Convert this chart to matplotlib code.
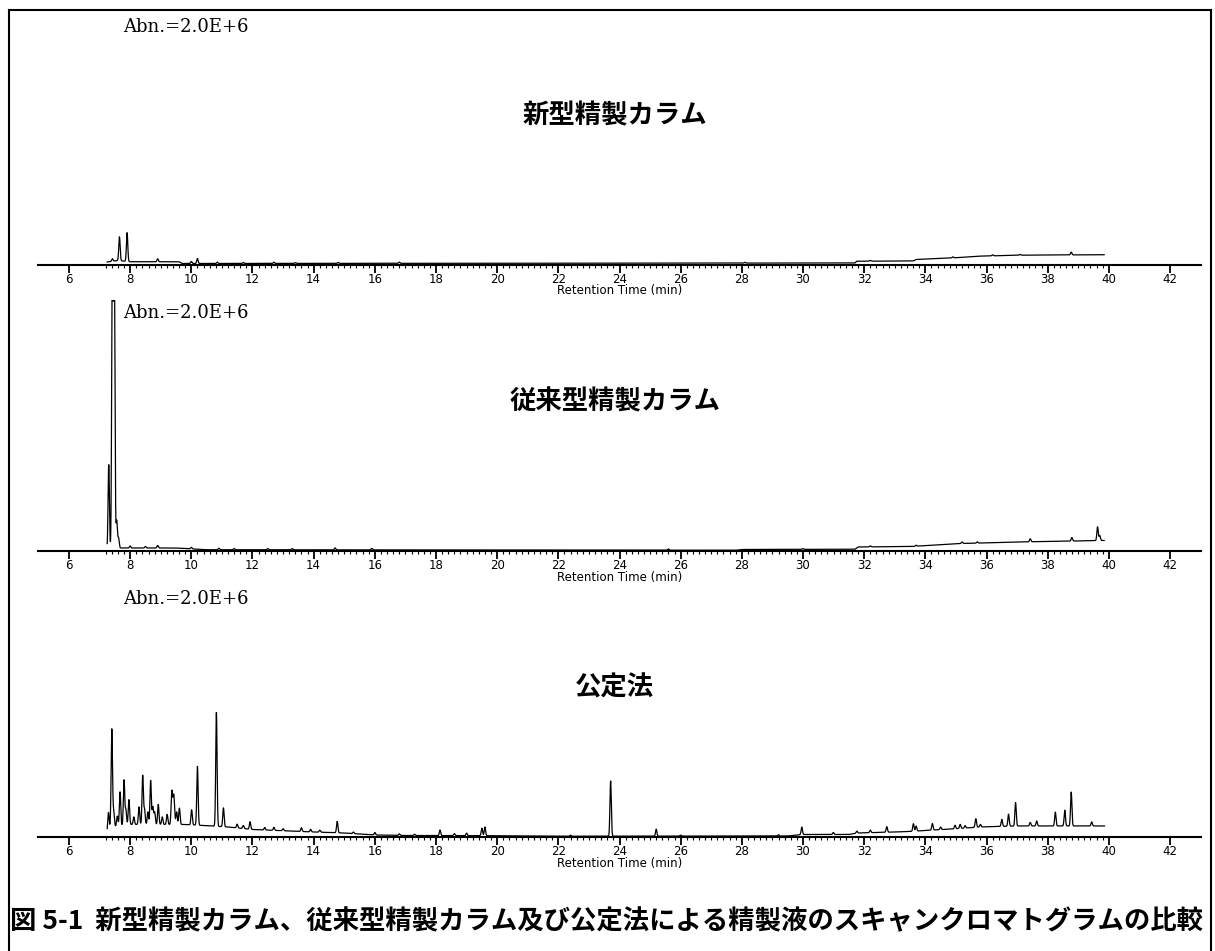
import numpy as np
import matplotlib
matplotlib.use("Agg")
import matplotlib.pyplot as plt
from matplotlib.lines import Line2D
from matplotlib.ticker import FixedLocator

# Full scale of every panel = Abn. 2.0E+6 (values below are fractions of it)
FULL_SCALE = "Abn.=2.0E+6"
X_LABEL = "Retention Time (min)"
TICKS = list(range(6, 43, 2))
TITLES = ["新型精製カラム", "従来型精製カラム", "公定法"]
CAPTION = "図 5-1  新型精製カラム、従来型精製カラム及び公定法による精製液のスキャンクロマトグラムの比較"

# baseline knots (time, level)
base_new = [(7.25, 0.010), (7.6, 0.016), (8.0, 0.011), (9.6, 0.011), (9.7, 0.004),
            (31.7, 0.006), (31.75, 0.013), (33.6, 0.014), (33.7, 0.020), (35.0, 0.027),
            (35.7, 0.033), (37.0, 0.037), (39.85, 0.039)]
base_old = [(7.25, 0.004), (7.6, 0.012), (9.5, 0.012), (10.5, 0.005), (27.8, 0.003),
            (28.0, 0.006), (31.7, 0.007), (31.8, 0.016), (33.6, 0.018), (33.8, 0.020),
            (34.5, 0.025), (35.2, 0.030), (36.5, 0.034), (37.5, 0.037), (39.85, 0.042)]
base_std = [(7.25, 0.020), (7.35, 0.040), (8.0, 0.050), (9.8, 0.050), (10.5, 0.045),
            (11.2, 0.040), (12.0, 0.030), (13.0, 0.025), (14.0, 0.020), (15.0, 0.016),
            (15.5, 0.012), (16.0, 0.008), (17.0, 0.006), (20.0, 0.005), (22.0, 0.003),
            (29.5, 0.004), (30.0, 0.010), (31.5, 0.010), (31.8, 0.016), (33.0, 0.020),
            (33.5, 0.022), (34.0, 0.026), (35.0, 0.033), (35.8, 0.040), (37.0, 0.044),
            (39.86, 0.044)]

# peaks (retention time, height above baseline)
peaks_new = [(7.42, 0.010), (7.65, 0.095), (7.90, 0.115), (8.9, 0.012), (10.0, 0.008),
             (10.2, 0.020), (10.85, 0.005), (11.7, 0.004), (12.7, 0.005), (13.4, 0.003),
             (14.8, 0.004), (16.8, 0.005), (28.1, 0.003), (32.2, 0.003), (34.9, 0.004),
             (36.2, 0.004), (37.1, 0.003), (38.77, 0.011)]
peaks_old = [(7.30, 0.34), (7.42, 1.30), (7.48, 1.20), (7.56, 0.11), (7.62, 0.04),
             (8.0, 0.008), (8.5, 0.006), (8.9, 0.010), (10.0, 0.006), (10.9, 0.006),
             (11.4, 0.005), (12.5, 0.005), (13.3, 0.005), (14.7, 0.008), (15.9, 0.006),
             (25.6, 0.005), (30.0, 0.003), (32.2, 0.004), (33.7, 0.004), (35.2, 0.006),
             (35.7, 0.005), (37.43, 0.012), (38.79, 0.014), (39.63, 0.055), (39.70, 0.020)]
peaks_std = [(7.29, 0.07), (7.40, 0.39), (7.46, 0.06), (7.58, 0.04), (7.67, 0.135),
             (7.80, 0.18), (7.86, 0.06), (7.96, 0.10), (8.12, 0.03), (8.29, 0.07),
             (8.41, 0.195), (8.47, 0.06), (8.58, 0.05), (8.67, 0.175), (8.74, 0.07),
             (8.80, 0.05), (8.92, 0.08), (9.05, 0.03), (9.21, 0.04), (9.36, 0.13),
             (9.41, 0.08), (9.44, 0.07), (9.52, 0.05), (9.61, 0.065), (10.01, 0.06),
             (10.20, 0.235), (10.82, 0.455), (11.05, 0.075), (11.5, 0.015), (11.7, 0.012),
             (11.92, 0.03), (12.4, 0.010), (12.7, 0.012), (13.0, 0.008), (13.6, 0.015),
             (13.9, 0.010), (14.2, 0.008), (14.77, 0.045), (15.3, 0.006), (16.0, 0.010),
             (16.8, 0.006), (17.3, 0.005), (18.13, 0.022), (18.6, 0.008), (19.0, 0.010),
             (19.5, 0.030), (19.6, 0.035), (22.4, 0.004), (23.71, 0.22), (25.2, 0.028),
             (26.0, 0.004), (29.2, 0.005), (29.96, 0.030), (30.99, 0.008), (31.76, 0.008),
             (32.2, 0.010), (32.74, 0.022), (33.61, 0.030), (33.70, 0.020), (34.23, 0.026),
             (34.5, 0.010), (34.97, 0.014), (35.14, 0.016), (35.3, 0.010), (35.65, 0.034),
             (35.8, 0.010), (36.5, 0.028), (36.72, 0.048), (36.95, 0.093), (37.43, 0.014),
             (37.64, 0.020), (38.25, 0.055), (38.56, 0.063), (38.77, 0.135), (39.44, 0.016)]

JP = ["Noto Sans CJK JP", "DejaVu Sans"]


def trace(base, peaks, sigma=0.022):
    bt, bl = zip(*base)
    t = np.arange(bt[0], bt[-1], 0.004)
    y = np.interp(t, bt, bl)
    for tp, h in peaks:
        y += h * np.exp(-0.5 * ((t - tp) / sigma) ** 2)
    return t, y


fig = plt.figure(figsize=(12.15, 9.51), dpi=100)
W, H = 1215, 951

axis_y = [264.5, 551, 837]   # pixel row of each time axis
panels = [(base_new, peaks_new), (base_old, peaks_old), (base_std, peaks_std)]

for i, ((base, peaks), title) in enumerate(zip(panels, TITLES)):
    ax = fig.add_axes([38.4 / W, 1 - axis_y[i] / H, 1162.2 / W, 251 / H])
    t, y = trace(base, peaks)
    ax.plot(t, y, color="black", lw=0.9)
    ax.set_xlim(5, 43)
    ax.set_ylim(0, 1)
    for s in ["top", "left", "right"]:
        ax.spines[s].set_visible(False)
    ax.spines["bottom"].set_linewidth(1.5)
    ax.set_yticks([])
    ax.set_xticks(TICKS)
    # scan ticks only where the run was recorded
    ax.xaxis.set_minor_locator(FixedLocator(np.arange(7.2, 39.9, 0.2)))
    ax.tick_params(axis="x", which="major", length=6, width=1.3, pad=0, labelsize=8.5)
    ax.tick_params(axis="x", which="minor", length=2.5, width=0.8)
    ax.set_xlabel(X_LABEL, fontsize=8.5, labelpad=-1)
    ax.patch.set_alpha(0)
    ax.text(0.0728, 0.948, FULL_SCALE, transform=ax.transAxes, fontsize=13,
            family="DejaVu Serif", va="center", ha="left")
    ax.text(0.496, 0.592, title, transform=ax.transAxes, fontsize=19,
            family=JP, fontweight="bold", ha="center", va="center")

fig.text(10 / W, 1 - 922 / H, CAPTION, fontsize=19, family=JP, fontweight="bold",
         ha="left", va="center")

# outer frame
for xs, ys in [([9, 9], [10, 960]), ([9, 1211], [10, 10]), ([1211, 1211], [10, 960])]:
    fig.add_artist(Line2D([x / W for x in xs], [1 - y / H for y in ys],
                          color="black", lw=1.5))

fig.savefig("out.png", dpi=100)
